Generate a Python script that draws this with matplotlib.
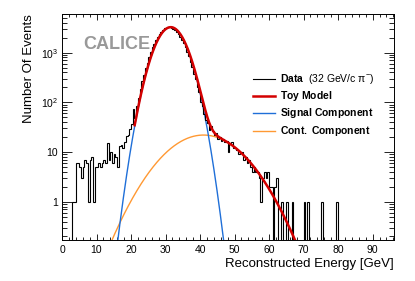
import numpy as np
import matplotlib
matplotlib.use("Agg")
import matplotlib.pyplot as plt
from matplotlib.ticker import MultipleLocator, LogLocator, FixedLocator, FixedFormatter, NullFormatter

plt.rcParams['font.family'] = ['Liberation Sans', 'DejaVu Sans']
plt.rcParams['mathtext.fontset'] = 'custom'
plt.rcParams['mathtext.rm'] = 'Liberation Sans'
plt.rcParams['mathtext.bf'] = 'Liberation Sans:bold'
plt.rcParams['mathtext.it'] = 'Liberation Sans:italic'

# histogram: 0.5 GeV bins starting at 3 GeV
bin_start = 3.0
bin_width = 0.5
counts = [
    1, 1, 6, 6, 5, 3, 5, 7, 6, 1,      # 3.0 - 7.5
    7, 8, 1, 5, 5, 6, 5, 6, 7, 6,      # 8.0 - 12.5
    15, 7, 10, 6, 9, 8, 5, 13, 14, 12,  # 13.0 - 17.5
    16, 21, 22, 29, 36, 72, 48, 86, 120, 182,  # 18.0 - 22.5
    270, 352, 490, 628, 820, 1010, 1280, 1520, 1790, 2110,  # 23.0 - 27.5
    2360, 2650, 2840, 3070, 3170, 3260, 3240, 3200, 3040, 2890,  # 28.0 - 32.5
    2620, 2400, 2090, 1830, 1530, 1290, 1030, 840, 640, 510,  # 33.0 - 37.5
    370, 290, 200, 158, 104, 86, 58, 44, 39, 28,  # 38.0 - 42.5
    33, 27, 22, 24, 18, 20, 17, 18, 16, 17,  # 43.0 - 47.5
    10, 15, 16, 12, 12, 11, 9, 10, 10, 7,  # 48.0 - 52.5
    8, 6, 7, 5, 4, 5, 4, 4, 3, 1,      # 53.0 - 57.5
    3, 4, 3, 4, 2, 2, 0, 2, 3, 0,      # 58.0 - 62.5
    0, 1, 0, 0, 1, 0, 0, 1, 0, 0,      # 63.0 - 67.5
    0, 0, 0, 0, 1, 0, 1, 0, 0, 0,      # 68.0 - 72.5
    0, 0, 0, 0, 1, 0, 0, 0, 0, 0,      # 73.0 - 77.5
    0, 0, 0, 1, 0,                     # 78.0 - 80.5
]

# fitted model components
signal_amp, signal_mean, signal_sigma = 3250.0, 31.5, 3.45
cont_amp, cont_mean, cont_sigma = 22.0, 41.0, 8.5
model_start = 21.0

counts = np.array(counts, dtype=float)
edges = bin_start + bin_width * np.arange(len(counts) + 1)

def gauss(x, a, m, s):
    return a * np.exp(-0.5 * ((x - m) / s) ** 2)

fig = plt.figure(figsize=(4.15, 2.81), dpi=100)
ax = fig.add_axes([62/415, 1-240/281, (394-62)/415, (240-14)/281])

xs = np.linspace(0, 96, 1200)
sig = gauss(xs, signal_amp, signal_mean, signal_sigma)
cont = gauss(xs, cont_amp, cont_mean, cont_sigma)
ax.plot(xs, cont, color='#ff9933', lw=1.0, zorder=2)
ax.plot(xs, sig, color='#1f6fd8', lw=1.0, zorder=3)

# data with empty bins dropped to the bottom of the frame
shown = np.where(counts > 0, counts, 1e-3)
ax.stairs(shown, edges, color='black', lw=0.8, zorder=4)

xm = xs[xs >= model_start]
ax.plot(xm, gauss(xm, signal_amp, signal_mean, signal_sigma) + gauss(xm, cont_amp, cont_mean, cont_sigma),
        color='#d40000', lw=1.8, zorder=5)

ax.set_yscale('log')
ax.set_xlim(0, 96.2)
ax.set_ylim(0.17, 6000)

ax.xaxis.set_major_locator(MultipleLocator(10))
ax.xaxis.set_minor_locator(MultipleLocator(2))
ax.yaxis.set_major_locator(FixedLocator([1, 10, 100, 1000]))
ax.yaxis.set_major_formatter(FixedFormatter(['1', '10', r'$10^{2}$', r'$10^{3}$']))
ax.yaxis.set_minor_locator(LogLocator(base=10, subs=np.arange(2, 10)))
ax.yaxis.set_minor_formatter(NullFormatter())
ax.tick_params(which='both', direction='in', top=True, right=True, labelsize=7.5, width=0.6)
ax.tick_params(axis='x', which='major', length=4, pad=3.5)
ax.tick_params(axis='x', which='minor', length=2.2)
ax.tick_params(axis='y', which='major', length=7, pad=3)
ax.tick_params(axis='y', which='minor', length=3.5)
for sp in ax.spines.values():
    sp.set_linewidth(0.7)

ax.set_xlabel('Reconstructed Energy [GeV]', fontsize=9.5, loc='right', labelpad=2)
ax.set_ylabel('Number Of Events', fontsize=9.5, loc='top', labelpad=4)

ax.text(0.063, 0.865, 'CALICE', transform=ax.transAxes, fontsize=13, fontweight='bold',
        color='#999999', va='center', ha='left')

# legend
entries = [
    (r'$\mathbf{Data}$  (32 GeV/c π$^{-}$)', 'black', 0.8),
    (r'$\mathbf{Toy\ Model}$', '#d40000', 1.8),
    (r'$\mathbf{Signal\ Component}$', '#1f6fd8', 1.0),
    (r'$\mathbf{Cont.\ Component}$', '#ff9933', 1.0),
]
leg_y = [79, 96, 113, 131]
for (lab, col, lw), py in zip(entries, leg_y):
    yy = (240 - py) / 226
    ax.plot([(253-62)/332, (275-62)/332], [yy, yy], color=col, lw=lw, transform=ax.transAxes)
    ax.text((280-62)/332, yy, lab, transform=ax.transAxes, fontsize=7.5, va='center', ha='left')

fig.savefig('out.png', dpi=100)
